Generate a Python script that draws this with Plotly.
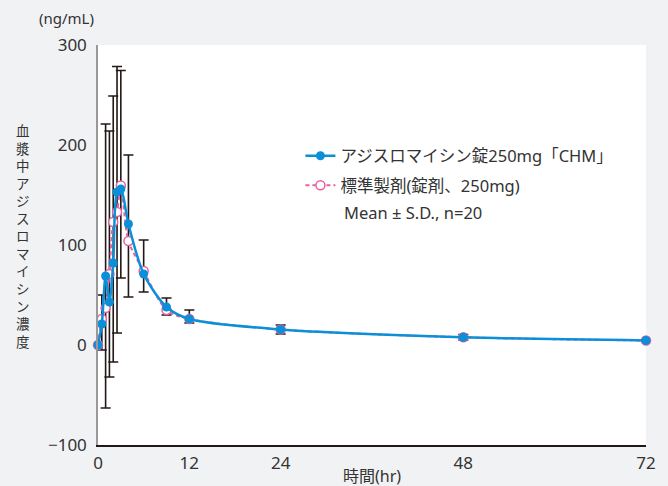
import plotly.graph_objects as go

# ---- data ----
time_hr = [0, 0.5, 1, 1.5, 2, 2.5, 3, 4, 6, 9, 12, 24, 48, 72]
chm_conc = [0, 21, 69, 43, 82, 153, 156, 121, 71, 38, 26, 15.5, 7.7, 4.5]
std_conc = [0, 26, 37, 71, 123, 133, 159.5, 104, 74, 35, 26, 15.5, 7.7, 4.5]
sd_top = [None, 50, 221, 214, 249, 278.5, 274.5, 190, 105, 47, 35, 20, 10.5, None]
sd_bottom = [None, -5, -63, -32, -17, 12, 67, 48, 53, 30, 22, 11, 5, None]

x_ticks = [0, 12, 24, 48, 72]
y_ticks = [-100, 0, 100, 200, 300]

name_chm = "アジスロマイシン錠250mg「CHM」"
name_std = "標準製剤(錠剤、250mg)"
note = "Mean ± S.D., n=20"
y_title = "血漿中アジスロマイシン濃度"
y_unit = "(ng/mL)"
x_title = "時間(hr)"

BLUE = "#0a8fd8"
PINK = "#e8609f"
DARK = "#231815"
BG = "#f1f2f4"
TXT = "#333333"
FONT = "Noto Sans, Noto Sans CJK JP"

err_plus = [None if t is None else t - m for t, m in zip(sd_top, chm_conc)]
err_minus = [None if b is None else m - b for b, m in zip(sd_bottom, chm_conc)]

fig = go.Figure()

# error bars (drawn first so markers sit on top)
fig.add_trace(go.Scatter(
    x=time_hr, y=chm_conc, mode="markers",
    marker=dict(size=1, opacity=0),
    error_y=dict(type="data", symmetric=False, array=err_plus, arrayminus=err_minus,
                 color=DARK, thickness=1.6, width=5),
    showlegend=False, hoverinfo="skip", cliponaxis=False,
))

fig.add_trace(go.Scatter(
    x=time_hr, y=std_conc, mode="lines+markers", name=name_std,
    legendgroup="b", legendrank=2,
    line=dict(color=PINK, width=2, dash="4px,3px", shape="spline", smoothing=0.8),
    marker=dict(symbol="circle", size=9, color="white", line=dict(color=PINK, width=1.5)),
    cliponaxis=False,
))

fig.add_trace(go.Scatter(
    x=time_hr, y=chm_conc, mode="lines+markers", name=name_chm,
    legendgroup="a", legendrank=1,
    line=dict(color=BLUE, width=2.5, shape="spline", smoothing=0.8),
    marker=dict(symbol="circle", size=9, color=BLUE),
    cliponaxis=False,
))

L, R, T, B = 98, 15, 45, 39
W, H = 668, 486
pw = W - L - R
ph = H - T - B

fig.update_layout(
    width=W, height=H,
    margin=dict(l=L, r=R, t=T, b=B, pad=0),
    paper_bgcolor=BG, plot_bgcolor="white",
    font=dict(family=FONT, size=15, color=TXT),
    showlegend=True,
    legend=dict(x=(303 - L) / pw, y=(H - B - 139) / ph, xanchor="left", yanchor="top",
                bgcolor="rgba(0,0,0,0)", font=dict(size=16.5, color=TXT),
                traceorder="grouped", itemwidth=30, tracegroupgap=5),
    xaxis=dict(range=[0, 72], tickvals=x_ticks, ticks="", showgrid=False, zeroline=False,
               showline=True, linecolor=DARK, linewidth=1.5,
               tickfont=dict(size=17, color=TXT), ticklabelstandoff=2),
    yaxis=dict(range=[-100, 300], tickvals=y_ticks, ticks="", showgrid=False, zeroline=False,
               showline=True, linecolor="#999999", linewidth=1.5,
               tickfont=dict(size=17, color=TXT), ticklabelstandoff=6),
)

ann = [
    dict(text=x_title, xref="paper", yref="paper", x=0.5, y=(H - B - 478) / ph,
         xanchor="center", yanchor="middle", showarrow=False, font=dict(size=16, color=TXT)),
    dict(text=y_unit, xref="paper", yref="paper", x=(96 - L) / pw, y=(H - B - 18) / ph,
         xanchor="right", yanchor="middle", showarrow=False, font=dict(size=15, color=TXT)),
    dict(text=note, xref="paper", yref="paper", x=(345 - L) / pw, y=(H - B - 213) / ph,
         xanchor="left", yanchor="middle", showarrow=False, font=dict(size=16.5, color=TXT)),
    dict(text="<br>".join(y_title), xref="paper", yref="paper", x=(22 - L) / pw,
         y=(H - B - 237) / ph, xanchor="center", yanchor="middle", showarrow=False,
         font=dict(size=13.5, color=TXT)),
]
fig.update_layout(annotations=ann)

fig.write_html("out.html", config={"displayModeBar": False},
               post_script="document.body.style.margin='0';document.body.style.padding='0';")
